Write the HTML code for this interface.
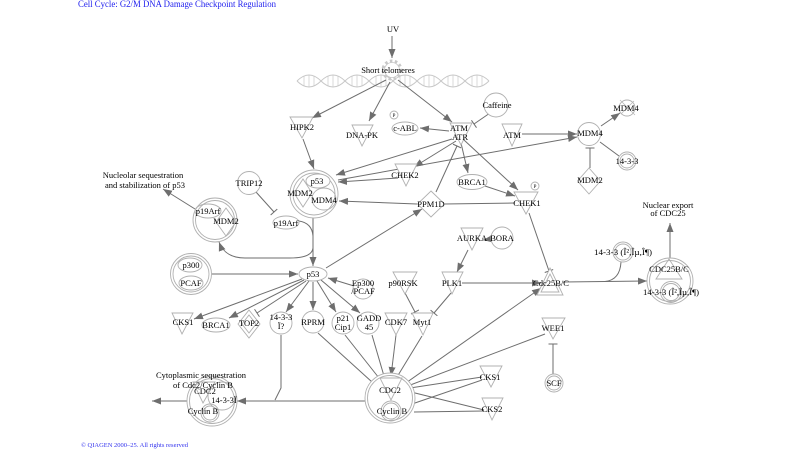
<!DOCTYPE html>
<html><head><meta charset="utf-8"><style>
html,body{margin:0;padding:0;background:#fff;}
svg{display:block;}
text{font-family:"Liberation Serif",serif;font-size:8.5px;fill:#000;text-anchor:middle;}
.e{stroke:#6e6e6e;stroke-width:1;fill:none;}
.n{stroke:#b0b0b0;stroke-width:0.9;fill:#fff;}
.nn{stroke:#b0b0b0;stroke-width:0.9;fill:none;}
</style></head><body>
<svg width="800" height="450" viewBox="0 0 800 450" xmlns="http://www.w3.org/2000/svg">
<defs>
<marker id="a" markerUnits="userSpaceOnUse" markerWidth="10" markerHeight="8" refX="9" refY="3.5" orient="auto"><path d="M0,0 L9,3.5 L0,7 z" fill="#6e6e6e"/></marker>
<marker id="t" markerUnits="userSpaceOnUse" markerWidth="3" markerHeight="10" refX="1" refY="4.5" orient="auto"><path d="M1,0 L1,9" stroke="#6e6e6e" stroke-width="1"/></marker>
</defs>

<!-- title / footer -->
<text x="78" y="7" style="font-size:9px;fill:#2222ee;text-anchor:start" textLength="198" lengthAdjust="spacingAndGlyphs">Cell Cycle: G2/M DNA Damage Checkpoint Regulation</text>
<text x="81" y="447" style="font-size:6px;fill:#3333ee;text-anchor:start" textLength="107" lengthAdjust="spacingAndGlyphs">© QIAGEN 2000–25. All rights reserved</text>

<!-- DNA helix -->
<g stroke="#c8c8c8" stroke-width="1" fill="none">
<path d="M297,81 q12,-12 24,0 t24,0 t24,0 t24,0 t24,0 t24,0 t24,0 t24,0"/>
<path d="M297,81 q12,12 24,0 t24,0 t24,0 t24,0 t24,0 t24,0 t24,0 t24,0"/>
<path stroke-width="0.7" d="M304,76v10M309,75v12M314,76v10 M328,76v10M333,75v12M338,76v10 M352,76v10M357,75v12M362,76v10 M376,76v10M381,75v12M386,76v10 M400,76v10M405,75v12M410,76v10 M424,76v10M429,75v12M434,76v10 M448,76v10M453,75v12M458,76v10 M472,76v10M477,75v12M482,76v10"/>
</g>
<circle cx="392" cy="70" r="9" fill="none" stroke="#c8c8c8" stroke-width="3" stroke-dasharray="2.5 2.5"/>
<circle cx="392" cy="70" r="7.5" fill="#fff" stroke="#c8c8c8" stroke-width="0.8"/>

<!-- edges -->
<g class="e">
<path d="M392,36 L392,58" marker-end="url(#a)"/>
<path d="M386,80 L312,118" marker-end="url(#a)"/>
<path d="M390,82 L369,121" marker-end="url(#a)"/>
<path d="M398,80 L452,122" marker-end="url(#a)"/>
<path d="M490,113 L474,124" marker-end="url(#t)"/>
<path d="M449,131 L420,128" marker-end="url(#a)"/>
<path d="M522,134 L577,134" marker-end="url(#a)"/>
<path d="M601,126 L620,113" marker-end="url(#a)"/>
<path d="M600,142 L619,156"/>
<path d="M590,168 L590,148" marker-end="url(#t)"/>
<path d="M303,139 L314,169" marker-end="url(#a)"/>
<path d="M452,139 L336,175" marker-end="url(#a)"/>
<path d="M456,141 L414,167" marker-end="url(#a)"/>
<path d="M461,143 L468,173" marker-end="url(#a)"/>
<path d="M464,140 L518,190" marker-end="url(#a)"/>
<path d="M398,178 L338,182" marker-end="url(#a)"/>
<path d="M338,180 L577,137" marker-end="url(#a)"/>
<path d="M485,186 L515,196" marker-end="url(#a)"/>
<path d="M515,203 L444,204"/>
<path d="M417,204 L339,201" marker-end="url(#a)"/>
<path d="M436,192 L457,146" marker-end="url(#t)"/>
<path d="M326,268 L422,209" marker-end="url(#a)"/>
<path d="M256,192 L274,212" marker-end="url(#t)"/>
<path d="M299,221 Q312,223 313,236"/>
<path d="M313,218 L313,266" marker-end="url(#a)"/>
<path d="M313,248 Q312,258 290,258 L245,258 Q225,258 219,242" marker-end="url(#a)"/>
<path d="M195,209 L163,189" marker-end="url(#a)"/>
<path d="M212,274 L298,274" marker-end="url(#a)"/>
<path d="M354,286 L328,278" marker-end="url(#a)"/>
<path d="M302,279 L194,319" marker-end="url(#a)"/>
<path d="M304,280 L229,318" marker-end="url(#a)"/>
<path d="M306,281 L257,313" marker-end="url(#t)"/>
<path d="M309,281 L286,312" marker-end="url(#a)"/>
<path d="M313,282 L313,310" marker-end="url(#a)"/>
<path d="M317,281 L336,312" marker-end="url(#a)"/>
<path d="M321,280 L360,313" marker-end="url(#a)"/>
<path d="M405,293 L415,312" marker-end="url(#t)"/>
<path d="M451,293 L434,313" marker-end="url(#t)"/>
<path d="M468,250 L457,272" marker-end="url(#a)"/>
<path d="M491,239 L483,240" marker-end="url(#a)"/>
<path d="M462,283 L541,283" marker-end="url(#a)"/>
<path d="M529,213 L549,271" marker-end="url(#t)"/>
<path d="M563,282 L647,281" marker-end="url(#a)"/>
<path d="M621,262 Q620,280 605,281.5"/>
<path d="M670,258 L670,223" marker-end="url(#a)"/>
<path d="M318,333 L372,382"/>
<path d="M345,335 L379,378"/>
<path d="M372,335 L384,376"/>
<path d="M396,335 L391,376" marker-end="url(#a)"/>
<path d="M422,336 L397,377"/>
<path d="M403,385 L541,288" marker-end="url(#a)"/>
<path d="M545,334 L405,387"/>
<path d="M410,388 L482,377"/>
<path d="M411,392 L484,410"/>
<path d="M412,404 L482,380"/>
<path d="M414,412 L484,411"/>
<path d="M553,374 L553,344" marker-end="url(#t)"/>
<path d="M281,335 L281,388 L275,400"/>
<path d="M366,401 L237,401" marker-end="url(#a)"/>
<path d="M187,401 L152,401" marker-end="url(#a)"/>
</g>

<!-- nodes -->
<g>
<!-- HIPK2, DNA-PK -->
<polygon class="n" points="290,117 313,117 302,138"/>
<polygon class="n" points="352,125 373,125 362,146"/>
<!-- c-ABL -->
<ellipse class="n" cx="405" cy="128.5" rx="13" ry="6.5"/>
<circle class="n" cx="394" cy="115" r="4"/>
<!-- ATM/ATR -->
<polygon class="n" points="450,123 472,123 461,145"/>
<!-- Caffeine -->
<circle class="n" cx="496" cy="105" r="12"/>
<!-- ATM -->
<polygon class="n" points="502,124 522,124 512,146"/>
<!-- MDM4 center, top -->
<circle class="n" cx="589" cy="134" r="11.5"/>
<circle class="n" cx="627" cy="108" r="8"/>
<path d="M620,100 L635,115 M634,101 L621,114" stroke="#b8b8b8" stroke-width="0.8"/>
<!-- 14-3-3 -->
<circle class="n" cx="627" cy="161" r="9"/>
<circle class="nn" cx="627" cy="161" r="7"/>
<!-- MDM2 right -->
<polygon class="n" points="589,168 600.5,181 589,194 577.5,181"/>
<!-- p53 complex -->
<circle class="n" cx="314" cy="194" r="24"/>
<circle class="nn" cx="314" cy="194" r="21"/>
<polygon class="nn" points="303,179 312,193 303,207 294,193"/>
<ellipse class="nn" cx="324" cy="199" rx="12" ry="11"/>
<ellipse class="n" cx="318" cy="181" rx="12" ry="7"/>
<!-- CHEK2 -->
<polygon class="n" points="395,164 417,164 406,186"/>
<!-- BRCA1 -->
<ellipse class="n" cx="472" cy="182" rx="15" ry="7.5"/>
<!-- CHEK1 -->
<polygon class="n" points="514,192 538,192 526,214"/>
<circle class="n" cx="535" cy="186" r="4"/>
<!-- PPM1D -->
<polygon class="n" points="431,191 444.5,204 431,217 417.5,204"/>
<!-- AURKA, BORA -->
<polygon class="n" points="461,228 483,228 472,250"/>
<circle class="n" cx="502" cy="238" r="11"/>
<!-- TRIP12 -->
<circle class="n" cx="249" cy="183" r="11.5"/>
<!-- p19Arf -->
<ellipse class="n" cx="286" cy="222.5" rx="13" ry="6.5"/>
<!-- p19Arf/MDM2 complex -->
<circle class="n" cx="215" cy="220" r="22"/>
<circle class="nn" cx="215" cy="220" r="19.5"/>
<polygon class="nn" points="226,208 236,222 226,236 216,222"/>
<ellipse class="nn" cx="208" cy="211" rx="13" ry="7"/>
<!-- p300/PCAF -->
<circle class="n" cx="191" cy="274" r="20.5"/>
<circle class="nn" cx="191" cy="274" r="18"/>
<ellipse class="nn" cx="190" cy="265" rx="12" ry="7"/>
<ellipse class="nn" cx="191" cy="283" rx="12" ry="7"/>
<!-- p53 -->
<ellipse class="n" cx="313" cy="274" rx="14" ry="7"/>
<!-- Ep300/PCAF -->
<circle class="n" cx="363" cy="289" r="10"/>
<!-- p90RSK, PLK1 -->
<polygon class="n" points="393,272 417,272 405,294"/>
<polygon class="n" points="442,272 463,272 452,294"/>
<!-- Cdc25B/C -->
<polygon class="n" points="550,268 563,295 537,295"/>
<polygon class="nn" points="550,274 559,292 541,292"/>
<!-- 14-3-3 bez -->
<circle class="n" cx="623" cy="252" r="10"/>
<circle class="nn" cx="623" cy="252" r="8"/>
<!-- CDC25B/C complex -->
<circle class="n" cx="670" cy="281" r="23"/>
<circle class="nn" cx="670" cy="281" r="20.5"/>
<polygon class="nn" points="669,259 682,279 656,279"/>
<circle class="nn" cx="671" cy="292" r="10.5"/>
<circle class="nn" cx="671" cy="292" r="8.5"/>
<!-- row -->
<polygon class="n" points="172,313 193,313 182,334"/>
<ellipse class="n" cx="216" cy="325" rx="14" ry="7"/>
<polygon class="n" points="249,310 260,324 249,338 238,324"/>
<polygon class="nn" points="249,315 256,324 249,333 242,324"/>
<circle class="n" cx="281" cy="323" r="11"/>
<circle class="n" cx="313" cy="322" r="11"/>
<circle class="n" cx="343" cy="323" r="11"/>
<circle class="n" cx="368" cy="323" r="11"/>
<polygon class="n" points="385,313 407,313 396,335"/>
<polygon class="n" points="412,313 433,313 423,335"/>
<!-- WEE1, SCF -->
<polygon class="n" points="542,318 565,318 553,339"/>
<circle class="n" cx="554" cy="383" r="9"/>
<circle class="nn" cx="554" cy="383" r="7"/>
<!-- CKS1, CKS2 right -->
<polygon class="n" points="480,366 502,366 491,387"/>
<polygon class="n" points="482,398 503,398 492,420"/>
<!-- CDC2/Cyclin B complex -->
<circle class="n" cx="390" cy="398" r="25"/>
<circle class="nn" cx="390" cy="398" r="22.5"/>
<polygon class="nn" points="380,378 402,378 391,400"/>
<circle class="nn" cx="391" cy="411" r="10"/>
<circle class="nn" cx="391" cy="411" r="8"/>
<!-- left complex -->
<circle class="n" cx="212" cy="401" r="25"/>
<circle class="nn" cx="212" cy="401" r="22.5"/>
<polygon class="nn" points="193,382 215,382 203,403"/>
<circle class="nn" cx="222" cy="396" r="14"/>
<circle class="nn" cx="210" cy="413" r="9"/>
<circle class="nn" cx="210" cy="413" r="7"/>
</g>

<!-- labels -->
<g>
<text x="393" y="32">UV</text>
<text x="388" y="73">Short telomeres</text>
<text x="302" y="130">HIPK2</text>
<text x="362" y="138">DNA-PK</text>
<text x="405" y="131">c-ABL</text>
<text x="394" y="117" style="font-size:5px">P</text>
<text x="459" y="131">ATM</text>
<text x="460" y="140">ATR</text>
<text x="497" y="108">Caffeine</text>
<text x="512" y="138">ATM</text>
<text x="590" y="136">MDM4</text>
<text x="626" y="111">MDM4</text>
<text x="627" y="164">14-3-3</text>
<text x="590" y="183">MDM2</text>
<text x="317" y="184">p53</text>
<text x="300" y="196">MDM2</text>
<text x="324" y="203">MDM4</text>
<text x="405" y="178">CHEK2</text>
<text x="472" y="185">BRCA1</text>
<text x="527" y="206">CHEK1</text>
<text x="535" y="188" style="font-size:5px">P</text>
<text x="431" y="207">PPM1D</text>
<text x="472" y="241">AURKA</text>
<text x="502" y="241">BORA</text>
<text x="249" y="186">TRIP12</text>
<text x="286" y="226">p19Arf</text>
<text x="208" y="214">p19Arf</text>
<text x="226" y="224">MDM2</text>
<text x="143" y="178">Nucleolar sequestration</text>
<text x="145" y="188">and stabilization of p53</text>
<text x="191" y="268">p300</text>
<text x="191" y="286">PCAF</text>
<text x="313" y="277">p53</text>
<text x="363" y="286">Ep300</text>
<text x="363" y="294">/PCAF</text>
<text x="403" y="286">p90RSK</text>
<text x="452" y="286">PLK1</text>
<text x="551" y="286">Cdc25B/C</text>
<text x="623" y="255" textLength="58" lengthAdjust="spacingAndGlyphs">14-3-3 (Î²,Îµ,Î¶)</text>
<text x="669" y="272">CDC25B/C</text>
<text x="671" y="295" textLength="56" lengthAdjust="spacingAndGlyphs">14-3-3 (Î²,Îµ,Î¶)</text>
<text x="668" y="208">Nuclear export</text>
<text x="668" y="216">of CDC25</text>
<text x="183" y="325">CKS1</text>
<text x="216" y="328">BRCA1</text>
<text x="249" y="326">TOP2</text>
<text x="281" y="320">14-3-3</text>
<text x="281" y="329">Ï?</text>
<text x="313" y="325">RPRM</text>
<text x="343" y="321">p21</text>
<text x="343" y="330">Cip1</text>
<text x="369" y="321">GADD</text>
<text x="369" y="330">45</text>
<text x="396" y="325">CDK7</text>
<text x="422" y="325">Myt1</text>
<text x="553" y="331">WEE1</text>
<text x="554" y="386">SCF</text>
<text x="490" y="380">CKS1</text>
<text x="492" y="412">CKS2</text>
<text x="390" y="393">CDC2</text>
<text x="392" y="414">Cyclin B</text>
<text x="201" y="378">Cytoplasmic sequestration</text>
<text x="203" y="388">of Cdc2/Cyclin B</text>
<text x="205" y="394">CDC2</text>
<text x="224" y="403">14-3-3Ï</text>
<text x="203" y="414">Cyclin B</text>
</g>
</svg>
</body></html>
